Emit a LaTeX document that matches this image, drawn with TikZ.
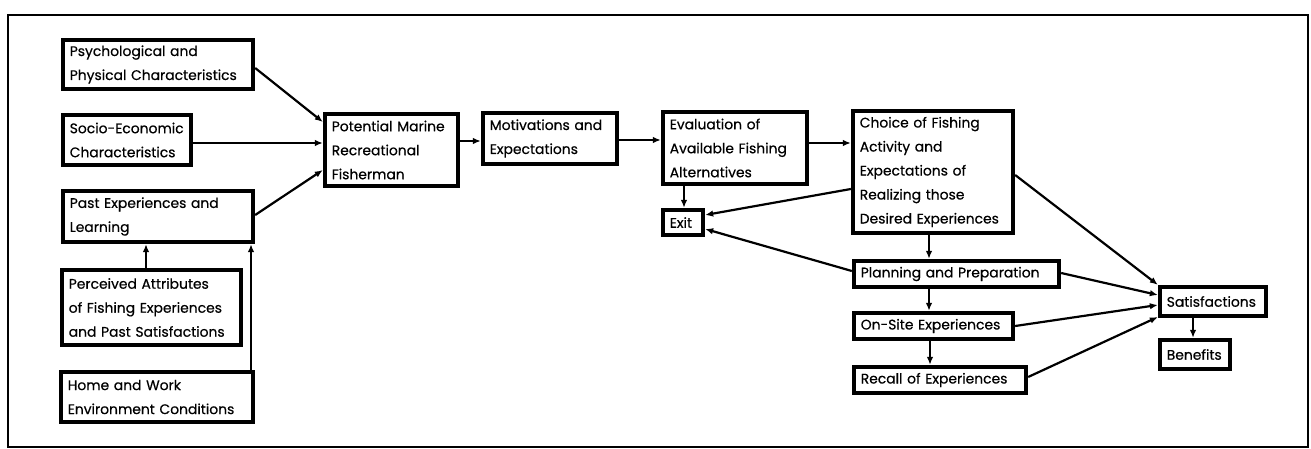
\documentclass[tikz,border=0pt]{standalone}
\usepackage{fontspec}
\setmainfont{Poppins}[FakeBold=0.5]
\usetikzlibrary{arrows.meta}
\hyphenpenalty=10000
\exhyphenpenalty=10000
\begin{document}
\begin{tikzpicture}[x=1pt,y=-1pt,
  box/.style={draw, line width=3.8pt, inner xsep=7pt, inner ysep=0pt, align=left,
    font=\fontsize{13.9}{24}\selectfont, anchor=center},
  arr/.style={line width=2.2pt, -{Latex[length=8pt,width=6.5pt]}}]
\useasboundingbox (0,0) rectangle (1311,449);
\draw[line width=1.5pt] (8,15) rectangle (1308,447);
\newcommand\bx[6]{\node[box, minimum width=#4pt, minimum height=#5pt, text width=#4pt-14pt] (#1) at (#2,#3) {#6};}
\bx{psych}{158}{64.5}{190.5}{49.5}{Psychological~and\\Physical~Characteristics}
\bx{socio}{127}{140}{128.5}{50.5}{Socio-Economic\\Characteristics}
\bx{past}{158}{216.5}{190.5}{51.5}{Past~Experiences~and\\Learning}
\bx{perc}{151.5}{307.5}{179.5}{75.5}{Perceived~Attributes\\of~Fishing~Experiences\\and~Past~Satisfactions}
\bx{home}{157}{397}{192.5}{50.5}{Home~and~Work\\Environment~Conditions}
\bx{pot}{391.5}{150}{133.5}{72.5}{Potential~Marine\\Recreational\\Fisherman}
\bx{mot}{550}{138.5}{134.5}{51.5}{Motivations~and\\Expectations}
\bx{eval}{735}{148}{144.5}{72.5}{Evaluation~of\\Available~Fishing\\Alternatives}
\bx{exit}{683}{222.5}{40.5}{25.5}{Exit}
\bx{choice}{933}{172}{160.5}{122.5}{Choice~of~Fishing\\Activity~and\\Expectations~of\\Realizing~those\\Desired~Experiences}
\bx{plan}{956.5}{274}{205.5}{26.5}{Planning~and~Preparation}
\bx{onsite}{933.5}{326}{159.5}{26.5}{On-Site~Experiences}
\bx{recall}{940}{380}{172.5}{26.5}{Recall~of~Experiences}
\bx{sat}{1213}{301.5}{106.5}{29.5}{Satisfactions}
\bx{ben}{1195}{354.5}{70.5}{29.5}{Benefits}
\draw[arr] (psych.east |- 0,68) -- (pot.west |- 0,122);
\draw[arr] (socio.east |- 0,143) -- (pot.west |- 0,143);
\draw[arr] (past.east |- 0,215) -- (pot.west |- 0,170);
\draw[arr] (perc.north -| 146,0) -- (past.south -| 146,0);
\draw[arr] (home.north -| 251,0) -- (past.south -| 251,0);
\draw[arr] (pot.east |- 0,141) -- (mot.west |- 0,141);
\draw[arr] (mot.east |- 0,140) -- (eval.west |- 0,140);
\draw[arr] (eval.east |- 0,143) -- (choice.west |- 0,143);
\draw[arr] (eval.south -| 684,0) -- (exit.north -| 684,0);
\draw[arr] (choice.west |- 0,189) -- (exit.east |- 0,215);
\draw[arr] (plan.west |- 0,271) -- (exit.east |- 0,229);
\draw[arr] (choice.south -| 929,0) -- (plan.north -| 929,0);
\draw[arr] (plan.south -| 929,0) -- (onsite.north -| 929,0);
\draw[arr] (onsite.south -| 930,0) -- (recall.north -| 930,0);
\draw[arr] (choice.east |- 0,175) -- (sat.north west);
\draw[arr] (plan.east |- 0,273) -- (sat.west |- 0,295);
\draw[arr] (onsite.east |- 0,326) -- (sat.west |- 0,305);
\draw[arr] (recall.east |- 0,377) -- (sat.west |- 0,317);
\draw[arr] (sat.south -| 1193,0) -- (ben.north -| 1193,0);
\end{tikzpicture}
\end{document}
